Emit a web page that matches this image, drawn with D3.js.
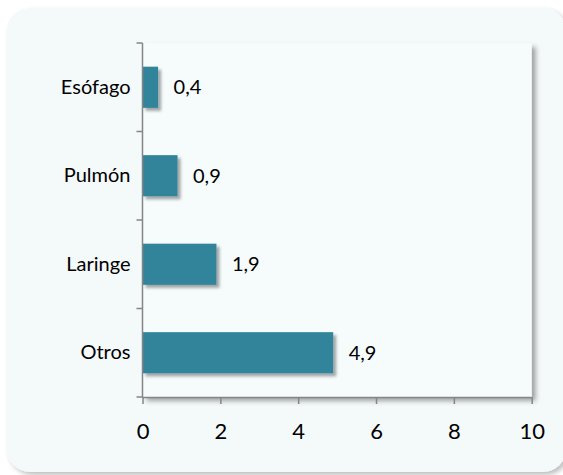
<!DOCTYPE html>
<html>
<head>
<meta charset="utf-8">
<script src="https://cdn.jsdelivr.net/npm/d3@7"></script>
<style>
  html, body { margin: 0; padding: 0; background: #ffffff; }
  svg { display: block; }
  text { font-family: Lato, "Open Sans", sans-serif; fill: #000; }
</style>
</head>
<body>
<script>
const categories = ["Esófago", "Pulmón", "Laringe", "Otros"];
const values = [0.4, 0.9, 1.9, 4.9];
const valueLabels = ["0,4", "0,9", "1,9", "4,9"];
const xTicks = [0, 2, 4, 6, 8, 10];

(function () {
const W = 563, H = 475;
const svg = d3.select("body").append("svg").attr("width", W).attr("height", H);

const defs = svg.append("defs");
const f1 = defs.append("filter").attr("id", "frameShadow").attr("x", "-5%").attr("y", "-5%").attr("width", "115%").attr("height", "115%");
f1.append("feDropShadow").attr("dx", 3).attr("dy", 3).attr("stdDeviation", 2.5).attr("flood-color", "#000").attr("flood-opacity", 0.25);
const f2 = defs.append("filter").attr("id", "plotShadow").attr("x", "-5%").attr("y", "-5%").attr("width", "115%").attr("height", "115%");
f2.append("feDropShadow").attr("dx", 4).attr("dy", 4).attr("stdDeviation", 2.5).attr("flood-color", "#000").attr("flood-opacity", 0.35);
const f3 = defs.append("filter").attr("id", "barShadow").attr("x", "-20%").attr("y", "-20%").attr("width", "160%").attr("height", "160%");
f3.append("feDropShadow").attr("dx", 3).attr("dy", 3).attr("stdDeviation", 1.8).attr("flood-color", "#000").attr("flood-opacity", 0.35);

// outer frame
svg.append("rect")
  .attr("x", 6.5).attr("y", 8).attr("width", 560).attr("height", 464)
  .attr("rx", 24).attr("ry", 24)
  .attr("fill", "#f4f9fa")
  .attr("filter", "url(#frameShadow)");

const pLeft = 142.5, pRight = 531.7, pTop = 43, pBottom = 397;

// plot area
svg.append("rect")
  .attr("x", pLeft).attr("y", pTop).attr("width", pRight - pLeft).attr("height", pBottom - pTop)
  .attr("fill", "#f6fbfc")
  .attr("filter", "url(#plotShadow)");

const x = d3.scaleLinear().domain([0, 10]).range([pLeft, pRight]);
const y = d3.scaleBand().domain(categories).range([pTop, pBottom])
  .paddingInner(0.535).paddingOuter(0.2675);

// bars
svg.append("g").selectAll("rect").data(values).join("rect")
  .attr("x", x(0))
  .attr("y", (d, i) => y(categories[i]))
  .attr("width", d => x(d) - x(0))
  .attr("height", y.bandwidth())
  .attr("fill", "#31849b")
  .attr("filter", "url(#barShadow)");

// value labels
svg.append("g").selectAll("text").data(values).join("text")
  .attr("x", d => x(d) + 15.5)
  .attr("y", (d, i) => y(categories[i]) + y.bandwidth() / 2)
  .attr("dy", "0.36em")
  .attr("font-size", 20)
  .text((d, i) => valueLabels[i]);

// y axis
const axisColor = "#868686";
const yAxis = svg.append("g").attr("transform", `translate(${pLeft},0)`)
  .call(d3.axisLeft(y).tickSize(0).tickPadding(12));
yAxis.select(".domain").remove();
yAxis.selectAll("text").attr("font-size", 20).attr("font-family", "Lato, sans-serif").attr("fill", "#000");

// y boundary ticks
const bounds = [pTop].concat(categories.map(c => y(c) + y.bandwidth() + y.step() * y.paddingInner() / 2));
bounds[bounds.length - 1] = pBottom;
svg.append("g").selectAll("line").data(bounds).join("line")
  .attr("x1", pLeft - 6).attr("x2", pLeft)
  .attr("y1", d => d).attr("y2", d => d)
  .attr("stroke", axisColor).attr("stroke-width", 1.5);
svg.append("line")
  .attr("x1", pLeft).attr("x2", pLeft).attr("y1", pTop).attr("y2", pBottom)
  .attr("stroke", axisColor).attr("stroke-width", 1.5);

// x axis
const xAxis = svg.append("g").attr("transform", `translate(0,${pBottom})`)
  .call(d3.axisBottom(x).tickValues(xTicks).tickSize(7).tickPadding(19).tickFormat(d3.format("d")));
xAxis.select(".domain").attr("stroke", axisColor).attr("stroke-width", 1.5)
  .attr("d", `M${pLeft},0.5H${pRight}`);
xAxis.selectAll(".tick line").attr("stroke", axisColor).attr("stroke-width", 1.5);
xAxis.selectAll("text").attr("font-size", 22).attr("font-family", "Lato, sans-serif").attr("fill", "#000");
})();
</script>
</body>
</html>
